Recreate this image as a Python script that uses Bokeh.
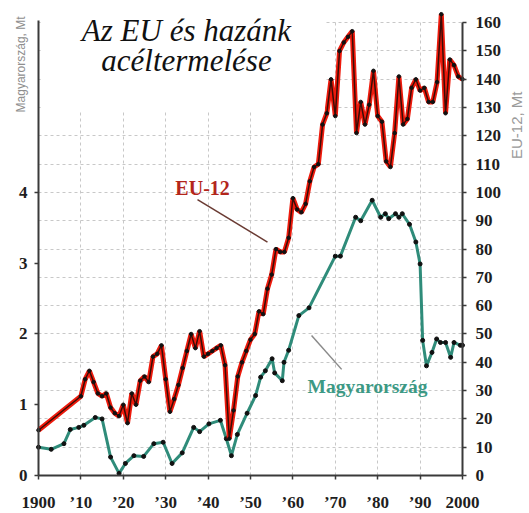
from bokeh.plotting import figure
from bokeh.models import Range1d, LinearAxis, FixedTicker, Label, BoxAnnotation
from bokeh.embed import file_html
from bokeh.resources import INLINE
import math

# ---------------- data ----------------
eu_years = [1900, 1910, 1911, 1912, 1913, 1914, 1915, 1916, 1917, 1918, 1919,
            1920, 1921, 1922, 1923, 1924, 1925, 1926, 1927, 1928, 1929,
            1930, 1931, 1932, 1933, 1934, 1935, 1936, 1937, 1938, 1939,
            1940, 1941, 1942, 1943, 1944, 1945, 1946, 1947, 1948, 1949,
            1950, 1951, 1952, 1953, 1954, 1955, 1956, 1957, 1958, 1959,
            1960, 1961, 1962, 1963, 1964, 1965, 1966, 1967, 1968, 1969,
            1970, 1971, 1972, 1973, 1974, 1975, 1976, 1977, 1978, 1979,
            1980, 1981, 1982, 1983, 1984, 1985, 1986, 1987, 1988, 1989,
            1990, 1991, 1992, 1993, 1994, 1995, 1996, 1997, 1998, 1999, 2000]
eu_values = [16, 28, 34, 37, 33, 29, 28, 29, 24, 22, 21,
             25, 18.5, 29, 25, 33.5, 35, 33, 42, 43, 46,
             34, 22.5, 27, 32, 38, 44, 50, 45, 51, 42,
             43, 44, 45, 46, 39, 13, 23, 35, 40, 44,
             48, 50, 58, 57, 66, 71, 80, 79, 79, 84,
             98, 94, 93, 96, 104, 109, 110, 124, 128, 140,
             127, 150, 153, 155, 157, 121, 132, 124, 131, 143,
             127, 125, 111, 109, 121, 141, 124, 126, 137, 140,
             136, 137, 132, 132, 139, 163, 128, 147, 145, 141, 140]

hu_years = [1900, 1903, 1906, 1907.5, 1909.5, 1910.7, 1913.4, 1915, 1917, 1919,
            1920.5, 1922.5, 1924.8, 1927.2, 1929.4, 1931.5, 1933.9, 1936.6, 1938,
            1940.2, 1942.9, 1944.3, 1945.5, 1946.9, 1949.2, 1951.2, 1952.4, 1953.5,
            1955.1, 1955.7, 1957.5, 1957.9, 1959, 1961.4, 1963.8, 1970, 1971.2,
            1974.8, 1976, 1978.7, 1980.7, 1981.8, 1982.6, 1984.2, 1985, 1985.8,
            1987.5, 1989, 1990, 1990.6, 1991.5, 1992.8, 1993.9, 1994.8, 1996,
            1997.2, 1998, 1999.5, 2000]
hu_values = [0.40, 0.37, 0.45, 0.65, 0.68, 0.71, 0.82, 0.80, 0.26, 0.03,
             0.17, 0.28, 0.27, 0.45, 0.47, 0.17, 0.32, 0.68, 0.62,
             0.73, 0.78, 0.52, 0.28, 0.58, 0.88, 1.13, 1.39, 1.48,
             1.65, 1.45, 1.34, 1.60, 1.77, 2.26, 2.37, 3.10, 3.10,
             3.65, 3.60, 3.89, 3.65, 3.70, 3.63, 3.70, 3.65, 3.70,
             3.55, 3.30, 2.99, 1.91, 1.55, 1.74, 1.93, 1.88, 1.88,
             1.67, 1.88, 1.84, 1.84]

x_ticks = [1900, 1910, 1920, 1930, 1940, 1950, 1960, 1970, 1980, 1990, 2000]
x_labels = ["1900", "\u201910", "\u201920", "\u201930", "\u201940", "\u201950",
            "\u201960", "\u201970", "\u201980", "\u201990", "2000"]
left_ticks = [0, 1, 2, 3, 4]
right_ticks = [0, 10, 20, 30, 40, 50, 60, 70, 80, 90, 100, 110, 120, 130, 140, 150, 160]

RATIO = 25.0          # 1 Mt (Hungary, left) == 25 Mt (EU-12, right)
EU_LO, EU_HI = -12.72, 167.84
X_LO, X_HI = 1891.04, 2015.33

title_lines = ["Az EU \u00e9s haz\u00e1nk", "ac\u00e9ltermel\u00e9se"]
hu_axis_title = "Magyarorsz\u00e1g, Mt"
eu_axis_title = "EU-12, Mt"

# ---------------- figure ----------------
p = figure(width=527, height=511, x_range=Range1d(X_LO, X_HI),
           y_range=Range1d(EU_LO / RATIO, EU_HI / RATIO),
           output_backend="svg", toolbar_location=None, min_border=0)
p.extra_y_ranges = {"eu": Range1d(EU_LO, EU_HI)}
p.outline_line_color = None
p.background_fill_color = "white"

right_axis = LinearAxis(y_range_name="eu")
p.add_layout(right_axis, "right")

AX_COL = "#3a3a3a"
for ax in [p.xaxis[0], p.yaxis[0], right_axis]:
    ax.axis_line_color = AX_COL
    ax.axis_line_width = 2
    ax.major_tick_line_color = AX_COL
    ax.major_tick_line_width = 1.5
    ax.major_tick_out = 4
    ax.major_tick_in = 0
    ax.minor_tick_line_color = None
    ax.major_label_text_font = "Liberation Serif"
    ax.major_label_text_font_style = "bold"
    ax.major_label_text_font_size = "17px"
    ax.major_label_text_color = "#1e1e1e"

p.xaxis[0].ticker = FixedTicker(ticks=x_ticks)
p.xaxis[0].major_label_overrides = {t: l for t, l in zip(x_ticks, x_labels)}
p.xaxis[0].major_label_standoff = 13
p.xaxis[0].bounds = (1900, 2000)
p.xaxis[0].fixed_location = 0

p.yaxis[0].ticker = FixedTicker(ticks=left_ticks)
p.yaxis[0].bounds = (0, 6.43)
p.yaxis[0].major_label_standoff = 7
p.yaxis[0].fixed_location = 1900

right_axis.ticker = FixedTicker(ticks=right_ticks)
right_axis.bounds = (0, 160)
right_axis.major_label_standoff = 9
right_axis.fixed_location = 2000

# ---------------- grid ----------------
GRID_COL, GRID_DASH = "#c8c8c8", "3 3"
xg, yg = p.xgrid[0], p.ygrid[0]
xg.ticker = FixedTicker(ticks=x_ticks)
yg.y_range_name = "eu"
yg.ticker = FixedTicker(ticks=right_ticks)
if "cross_bounds" in xg.properties():
    xg.cross_bounds = (0, 160 / RATIO)
    yg.cross_bounds = (1900, 2000)
    for g in [xg, yg]:
        g.grid_line_color = GRID_COL
        g.grid_line_dash = GRID_DASH
        g.grid_line_width = 1
else:
    xg.grid_line_color = None
    yg.grid_line_color = None
    p.segment(x0=x_ticks, y0=[0] * len(x_ticks), x1=x_ticks, y1=[160 / RATIO] * len(x_ticks),
              line_color=GRID_COL, line_dash=GRID_DASH, line_width=1)
    p.segment(x0=[1900] * len(right_ticks), y0=right_ticks, x1=[2000] * len(right_ticks),
              y1=right_ticks, y_range_name="eu",
              line_color=GRID_COL, line_dash=GRID_DASH, line_width=1)

# white box behind the title
p.add_layout(BoxAnnotation(left=1900.5, right=1967.5, bottom=5.15, top=160 / RATIO + 0.2,
                           fill_color="white", fill_alpha=1.0, line_color=None))

# ---------------- series ----------------
p.line(hu_years, hu_values, line_color="#2f8c7a", line_width=3)
p.scatter(hu_years, hu_values, size=4, color="#111111")

p.line(eu_years, eu_values, y_range_name="eu", line_color="#ee1a0c", line_width=5)
p.line(eu_years, eu_values, y_range_name="eu", line_color="#3a0c06", line_width=1.5)
p.scatter(eu_years, eu_values, y_range_name="eu", size=3.5, color="#111111")

# ---------------- annotations ----------------
p.add_layout(Label(x=1934.9, y=6.29, text=title_lines[0], text_align="center",
                   text_baseline="middle", text_font="Liberation Serif",
                   text_font_style="italic", text_font_size="31px", text_color="#111111"))
p.add_layout(Label(x=1934.9, y=5.87, text=title_lines[1], text_align="center",
                   text_baseline="middle", text_font="Liberation Serif",
                   text_font_style="italic", text_font_size="31px", text_color="#111111"))

p.line([1937.5, 1954.0], [3.90, 3.30], line_color="#6a3b33", line_width=1.5)
p.add_layout(Label(x=1938.7, y=4.07, text="EU-12", text_align="center",
                   text_baseline="middle", text_font="Liberation Serif",
                   text_font_style="bold", text_font_size="20px", text_color="#b3261b"))

p.line([1964.4, 1971.5], [1.98, 1.50], line_color="#8a8a8a", line_width=1.5)
p.add_layout(Label(x=1977.6, y=1.26, text="Magyarorsz\u00e1g", text_align="center",
                   text_baseline="middle", text_font="Liberation Serif",
                   text_font_style="bold", text_font_size="19.5px", text_color="#3d9985"))

p.add_layout(Label(x=1895.76, y=5.81, text=hu_axis_title, angle=math.pi / 2,
                   text_align="center", text_baseline="middle", text_font="Liberation Sans",
                   text_font_size="12px", text_color="#8e8e8e"))
p.add_layout(Label(x=2012.74, y=4.95, text=eu_axis_title, angle=math.pi / 2,
                   text_align="center", text_baseline="middle", text_font="Liberation Sans",
                   text_font_size="15px", text_color="#9a9a9a"))

open("out.html", "w").write(file_html(p, INLINE))
